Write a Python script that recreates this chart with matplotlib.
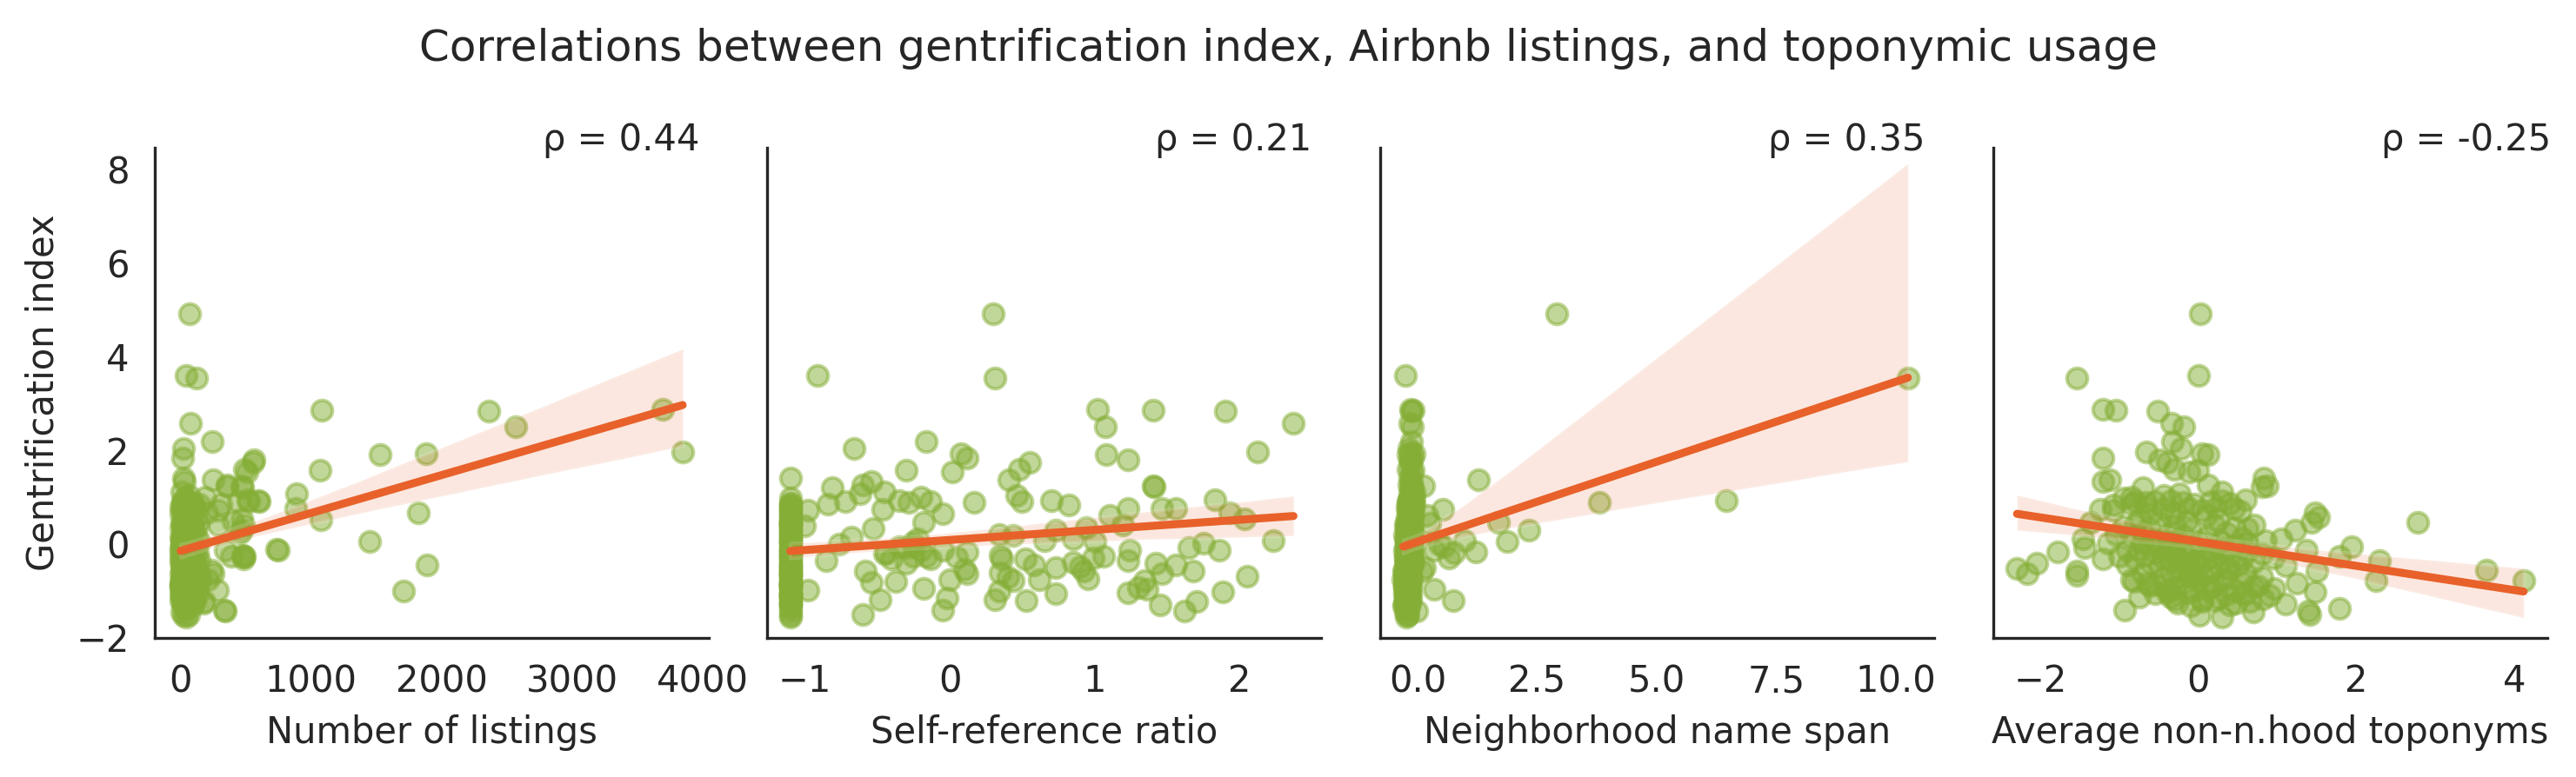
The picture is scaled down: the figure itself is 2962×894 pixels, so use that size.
import matplotlib
matplotlib.use("Agg")
import matplotlib.pyplot as plt
import seaborn as sns
import numpy as np
import pandas as pd

# ---------------- data ----------------
gentrification = [
    # y >= 1
    4.92, 3.60, 3.55, 2.87, 2.85, 2.84, 2.58, 2.51, 2.19, 2.04,
    1.97, 1.94, 1.91, 1.84, 1.80, 1.75, 1.60, 1.58, 1.55, 1.41,
    1.38, 1.33, 1.26, 1.24, 1.22, 1.20, 1.12, 1.07, 1.04, 1.01,
    # 0.5 .. 1
    0.98, 0.95, 0.93, 0.93, 0.92, 0.92, 0.92, 0.90, 0.89, 0.87,
    0.86, 0.85, 0.83, 0.80, 0.78, 0.76, 0.76, 0.76, 0.75, 0.73,
    0.73, 0.70, 0.67, 0.67, 0.65, 0.62, 0.61, 0.58, 0.55, 0.52,
    # 0 .. 0.5
    0.49, 0.47, 0.46, 0.46, 0.45, 0.42, 0.42, 0.41, 0.39, 0.37,
    0.36, 0.33, 0.33, 0.30, 0.30, 0.27, 0.24, 0.21, 0.20, 0.18,
    0.16, 0.15, 0.13, 0.12, 0.12, 0.10, 0.08, 0.07, 0.06, 0.05,
    0.05, 0.04, 0.03, 0.02, 0.01,
    # -0.5 .. 0
    -0.02, -0.04, -0.05, -0.07, -0.07, -0.09, -0.10, -0.12, -0.13, -0.13,
    -0.13, -0.15, -0.16, -0.17, -0.19, -0.20, -0.22, -0.23, -0.24, -0.25,
    -0.26, -0.26, -0.26, -0.27, -0.29, -0.30, -0.31, -0.32, -0.32, -0.32,
    -0.34, -0.35, -0.35, -0.37, -0.38, -0.40, -0.41, -0.42, -0.44, -0.44,
    -0.45, -0.46, -0.47, -0.49, -0.50,
    # -1 .. -0.5
    -0.52, -0.54, -0.56, -0.57, -0.57, -0.57, -0.58, -0.60, -0.62, -0.63,
    -0.63, -0.65, -0.67, -0.69, -0.70, -0.72, -0.75, -0.75, -0.77, -0.78,
    -0.78, -0.80, -0.81, -0.81, -0.83, -0.85, -0.87, -0.89, -0.91, -0.93,
    -0.94, -0.96, -0.97, -0.98, -1.00,
    # < -1
    -1.02, -1.03, -1.04, -1.06, -1.06, -1.08, -1.10, -1.12, -1.15, -1.17,
    -1.18, -1.19, -1.21, -1.23, -1.25, -1.25, -1.28, -1.32, -1.37, -1.40,
    -1.43, -1.45, -1.49, -1.52, -1.56,
    # extra low rows inside the dense clusters
    -0.61, -0.73, -0.84, -0.92, -1.05, -1.13, -1.22, -1.30, -0.68, -0.88,
]

listings = [
    68, 41, 120, 3692, 1085, 2364, 74, 2570, 242, 24,
    3846, 1881, 1529, 13, 563, 555, 490, 1071, 511, 20,
    246, 28, 358, 469, 356, 478, 8, 888, 62, 190,
    35, 516, 594, 15, 602, 521, 445, 90, 52, 18,
    141, 312, 104, 6, 78, 881, 33, 46, 12, 290,
    115, 85, 1819, 201, 3, 58, 130, 27, 467, 1077,
    400, 22, 9, 64, 135, 290, 40, 484, 17, 98,
    4, 71, 26, 467, 110, 55, 453, 14, 83, 37,
    2, 125, 49, 10, 66, 31, 94, 19, 143, 1448,
    7, 57, 39, 80, 11,
    45, 8, 118, 29, 72, 3, 738, 61, 751, 345,
    16, 97, 38, 5, 128, 23, 84, 12, 475, 50,
    489, 389, 480, 34, 107, 6, 68, 480, 21, 92,
    13, 146, 44, 79, 1, 58, 25, 113, 1887, 9,
    70, 36, 101, 15, 53,
    27, 88, 237, 7, 63, 122, 41, 14, 99, 246,
    2, 48, 75, 18, 134, 31, 210, 57, 10, 86,
    44, 4, 109, 67, 22, 139, 1, 52, 93, 36,
    11, 71, 25, 280, 1711,
    19, 8, 95, 54, 127, 3, 38, 76, 12, 102,
    29, 61, 5, 186, 179, 47, 17, 90, 33, 334,
    345, 9, 66, 24, 42,
    43, 16, 82, 6, 57, 24, 112, 35, 150, 3,
]

self_reference = [
    0.30, -0.91, 0.31, 1.02, 1.40, 1.90, 2.37, 1.07, -0.16, -0.66,
    2.12, 0.08, 1.08, 0.12, 1.23, 0.55, 0.48, -0.30, 0.02, -1.10,
    0.41, -0.54, -0.60, 1.40, 1.41, -0.81, -0.45, -0.62, 0.46, -0.20,
    -1.10, 1.83, 0.70, -0.35, 0.50, -0.13, -0.72, -0.28, 0.17, -1.10,
    -0.84, -1.10, 0.82, -1.10, -1.10, 1.23, 1.56, 1.46, -0.46, -0.98,
    -1.10, -1.10, 1.93, -1.10, -0.05, -1.10, 1.10, -1.10, 2.03, -1.10,
    -1.10, -1.10, -0.18, -1.10, -1.10, 1.19, -1.10, -1.10, -1.00, -1.10,
    0.94, -0.53, -1.10, 0.73, -1.10, -1.10, -1.10, 0.34, -1.10, 0.44,
    -1.10, -0.68, -1.10, 0.85, -0.22, -1.10, 0.65, 2.23, -1.10, 1.00,
    -1.10, -0.25, -1.10, 1.75, -0.76,
    -1.10, -0.25, -0.35, 1.65, -0.30, -1.10, -1.10, -0.05, 1.86, 1.24,
    -0.20, -1.10, 0.12, -1.10, -0.44, -0.45, -1.10, 0.35, -1.10, -0.25,
    1.06, -0.16, -1.10, 0.05, 0.99, -1.10, -0.40, 0.52, 0.36, -0.13,
    -1.10, -0.85, 1.23, -1.10, 0.85, -0.30, 1.42, -1.10, 1.56, 0.58,
    -1.10, -1.10, 0.90, -1.10, 0.73,
    -1.10, 0.10, -1.10, 0.92, 1.68, -0.58, -1.10, 0.35, -1.10, 1.46,
    0.12, -1.10, -1.10, -1.10, 0.40, -1.10, 0.00, 0.62, -1.10, 1.34,
    0.44, -0.37, -0.54, -1.10, -1.10, -1.10, -1.10, -1.10, -1.10, -1.10,
    -0.18, -1.10, 1.36, -0.98, 0.34,
    1.88, 1.23, -1.10, 0.73, -1.10, -1.10, -1.10, -1.10, -0.02, -1.10,
    0.31, -0.48, 0.53, -1.10, -1.10, -1.10, -1.10, -1.10, -1.10, -0.05,
    1.62, -1.10, -0.60, -1.10, -1.10,
    -1.10, 0.95, -1.10, 1.30, -1.10, -1.10, 1.70, 1.45, 2.05, -1.10,
]

name_span = [
    2.91, -0.26, 10.25, -0.14, -0.09, -0.12, -0.16, -0.10, -0.13, -0.18,
    -0.15, -0.08, -0.19, -0.11, -0.17, -0.14, -0.20, -0.09, -0.12, -0.16,
    1.28, -0.13, -0.18, 0.13, -0.10, -0.15, -0.07, -0.17, -0.12, -0.08,
    -0.16, -0.12, 6.45, -0.18, -0.09, -0.20, -0.14, 3.80, -0.11, -0.17,
    -0.19, -0.13, -0.08, -0.16, -0.21, -0.10, -0.15, -0.18, 0.52, -0.12,
    -0.16, -0.20, -0.13, -0.17, -0.09, 0.20, -0.14, -0.22, -0.11, -0.18,
    -0.20, -0.15, 1.69, -0.23, 0.25, -0.12, -0.18, -0.26, -0.10, -0.21,
    -0.16, -0.24, -0.13, 2.33, -0.19, -0.11, -0.22, -0.17, -0.27, -0.14,
    -0.20, -0.09, -0.25, -0.18, -0.12, -0.23, 0.98, -0.16, -0.21, 1.87,
    -0.13, -0.19, -0.24, -0.10, 0.45,
    -0.18, -0.22, 0.55, -0.14, -0.25, -0.11, -0.20, -0.16, 0.35, -0.23,
    -0.13, -0.27, 1.22, -0.19, 0.76, -0.15, -0.21, -0.10, -0.24, -0.17,
    -0.12, -0.26, -0.19, -0.14, 0.65, -0.22, -0.18, -0.11, -0.25, -0.16,
    -0.20, -0.13, -0.23, -0.17, -0.21, -0.09, -0.15, -0.26, -0.19, -0.12,
    -0.24, -0.18, -0.14, 0.15, -0.20,
    -0.24, -0.19, -0.27, 0.09, -0.16, -0.22, -0.29, -0.14, -0.25, -0.20,
    -0.18, -0.28, -0.23, -0.15, -0.21, -0.26, -0.17, -0.30, -0.13, -0.24,
    -0.19, -0.22, -0.27, -0.16, -0.23, -0.20, -0.25, -0.18, -0.14, -0.28,
    -0.21, -0.17, 0.35, -0.24, -0.19,
    -0.22, -0.17, -0.25, -0.20, -0.28, -0.15, -0.23, -0.19, -0.26, -0.21,
    -0.14, -0.24, 0.74, -0.18, -0.27, -0.22, -0.16, -0.29, -0.20, -0.23,
    -0.02, -0.25, -0.19, -0.21, -0.24,
    -0.23, -0.26, -0.20, -0.27, -0.22, -0.25, -0.19, -0.28, -0.21, -0.24,
]

non_hood_toponyms = [
    0.02, 0.00, -1.54, -1.21, -1.05, -0.52, -0.34, -0.19, -0.33, -0.22,
    -0.66, 0.05, 0.12, -1.21, -0.49, -0.40, -0.31, -0.01, -0.12, 0.83,
    -1.12, -1.21, 0.12, 0.87, 0.80, -0.70, 0.30, -0.24, -0.44, -0.85,
    -0.95, 0.60, 0.30, -0.35, -0.80, 0.15, -0.55, -0.20, -0.67, 0.40,
    -0.85, -0.05, -1.08, -0.67, 0.22, -0.44, -0.12, 0.45, -1.25, -1.08,
    0.05, 0.53, -0.30, 1.48, -0.60, 0.10, -0.35, 1.52, -0.75, 0.25,
    -0.15, 2.78, 1.43, -1.37, -0.50, 0.20, -0.80, 0.71, -0.30, -0.95,
    0.45, 0.62, -0.62, 1.22, -0.10, -0.70, 0.35, -0.40, -1.05, -0.20,
    0.10, -0.85, 0.55, -1.47, 1.05, -0.25, 0.85, -0.55, 0.00, -0.35,
    0.28, -0.72, -1.15, 0.62, -0.48,
    -0.60, 0.45, 1.94, -1.44, -0.20, 0.30, -0.75, 1.37, -0.40, 0.15,
    -0.90, 0.62, -0.10, -1.79, -0.55, 0.80, -0.30, 0.05, -0.68, 1.79,
    -0.15, 0.40, -1.00, 0.20, -0.45, 0.95, -0.25, -1.21, 0.55, -0.80,
    0.10, -0.35, 2.29, -0.05, 0.70, -0.60, -2.05, 0.25, -0.90, 0.50,
    -0.20, 1.10, -0.50, 0.35, 0.00,
    -2.30, 0.40, 3.65, -1.54, 0.15, -0.35, 1.50, -0.10, -2.17, 0.60,
    -0.70, 0.05, -1.54, -0.25, 0.80, -0.45, 0.30, -0.85, 2.25, 0.00,
    4.12, -0.81, 0.55, -0.15, 1.25, -0.55, 0.20, -0.62, 0.70, -0.30,
    0.96, 0.10, -0.40, 0.45, -0.05,
    1.48, -0.40, -0.13, 0.60, -0.55, 0.35, 0.90, -0.75, 0.25, 0.82,
    0.05, -0.30, 0.21, 0.65, -0.26, 0.48, 1.10, -0.10, 1.79, -0.94,
    1.39, 0.70, 1.41, 0.01, 0.30,
    -0.20, 0.35, -0.65, 0.15, 0.55, -0.35, 0.05, 0.40, -0.10, 0.75,
]

x_labels = ["Number of listings", "Self-reference ratio",
            "Neighborhood name span", "Average non-n.hood toponyms"]
rho_values = [0.44, 0.21, 0.35, -0.25]
y_label = "Gentrification index"
title = "Correlations between gentrification index, Airbnb listings, and toponymic usage"

# ---------------- style ----------------
sns.set_style("white")
plt.rcParams["font.family"] = ["DejaVu Sans"]
plt.rcParams["axes.edgecolor"] = ".15"

GREEN = "#84ae35"
ORANGE = "#e8612a"

df = pd.DataFrame({
    "gent": gentrification,
    "listings": listings,
    "selfref": self_reference,
    "span": name_span,
    "nonhood": non_hood_toponyms,
})
xcols = ["listings", "selfref", "span", "nonhood"]
xlims = [(-197, 4046), (-1.26, 2.56), (-0.78, 10.8), (-2.6, 4.42)]

W, H = 2962, 894
fig = plt.figure(figsize=(W / 300, H / 300), dpi=300)
lefts = [178, 882, 1587, 2292]
ax_w = 637
bottom_px, top_px = 734, 170
axes = []
for i in range(4):
    ax = fig.add_axes([lefts[i] / W, 1 - bottom_px / H, ax_w / W,
                       (bottom_px - top_px) / H],
                      sharey=axes[0] if axes else None)
    axes.append(ax)

for i, ax in enumerate(axes):
    sns.regplot(data=df, x=xcols[i], y="gent", ax=ax, seed=0,
                scatter_kws=dict(color=GREEN, alpha=0.5, s=32, linewidths=1.0),
                line_kws=dict(color=ORANGE, lw=2.2))
    ax.set_xlim(*xlims[i])
    ax.set_ylim(-2.0, 8.46)
    ax.set_xlabel(x_labels[i], fontsize=10)
    ax.set_ylabel(y_label if i == 0 else "", fontsize=10)
    ax.tick_params(labelsize=10)
    if i > 0:
        ax.tick_params(labelleft=False)
    ax.text(0.70, 0.995, f"ρ = {rho_values[i]:.2f}", transform=ax.transAxes,
            ha="left", va="baseline", fontsize=10, color=".15")
    sns.despine(ax=ax)

axes[0].set_yticks([-2, 0, 2, 4, 6, 8])
fig.suptitle(title, fontsize=12, y=1 - 70 / H, va="baseline", color=".15")

fig.savefig("out.png", dpi=300)
